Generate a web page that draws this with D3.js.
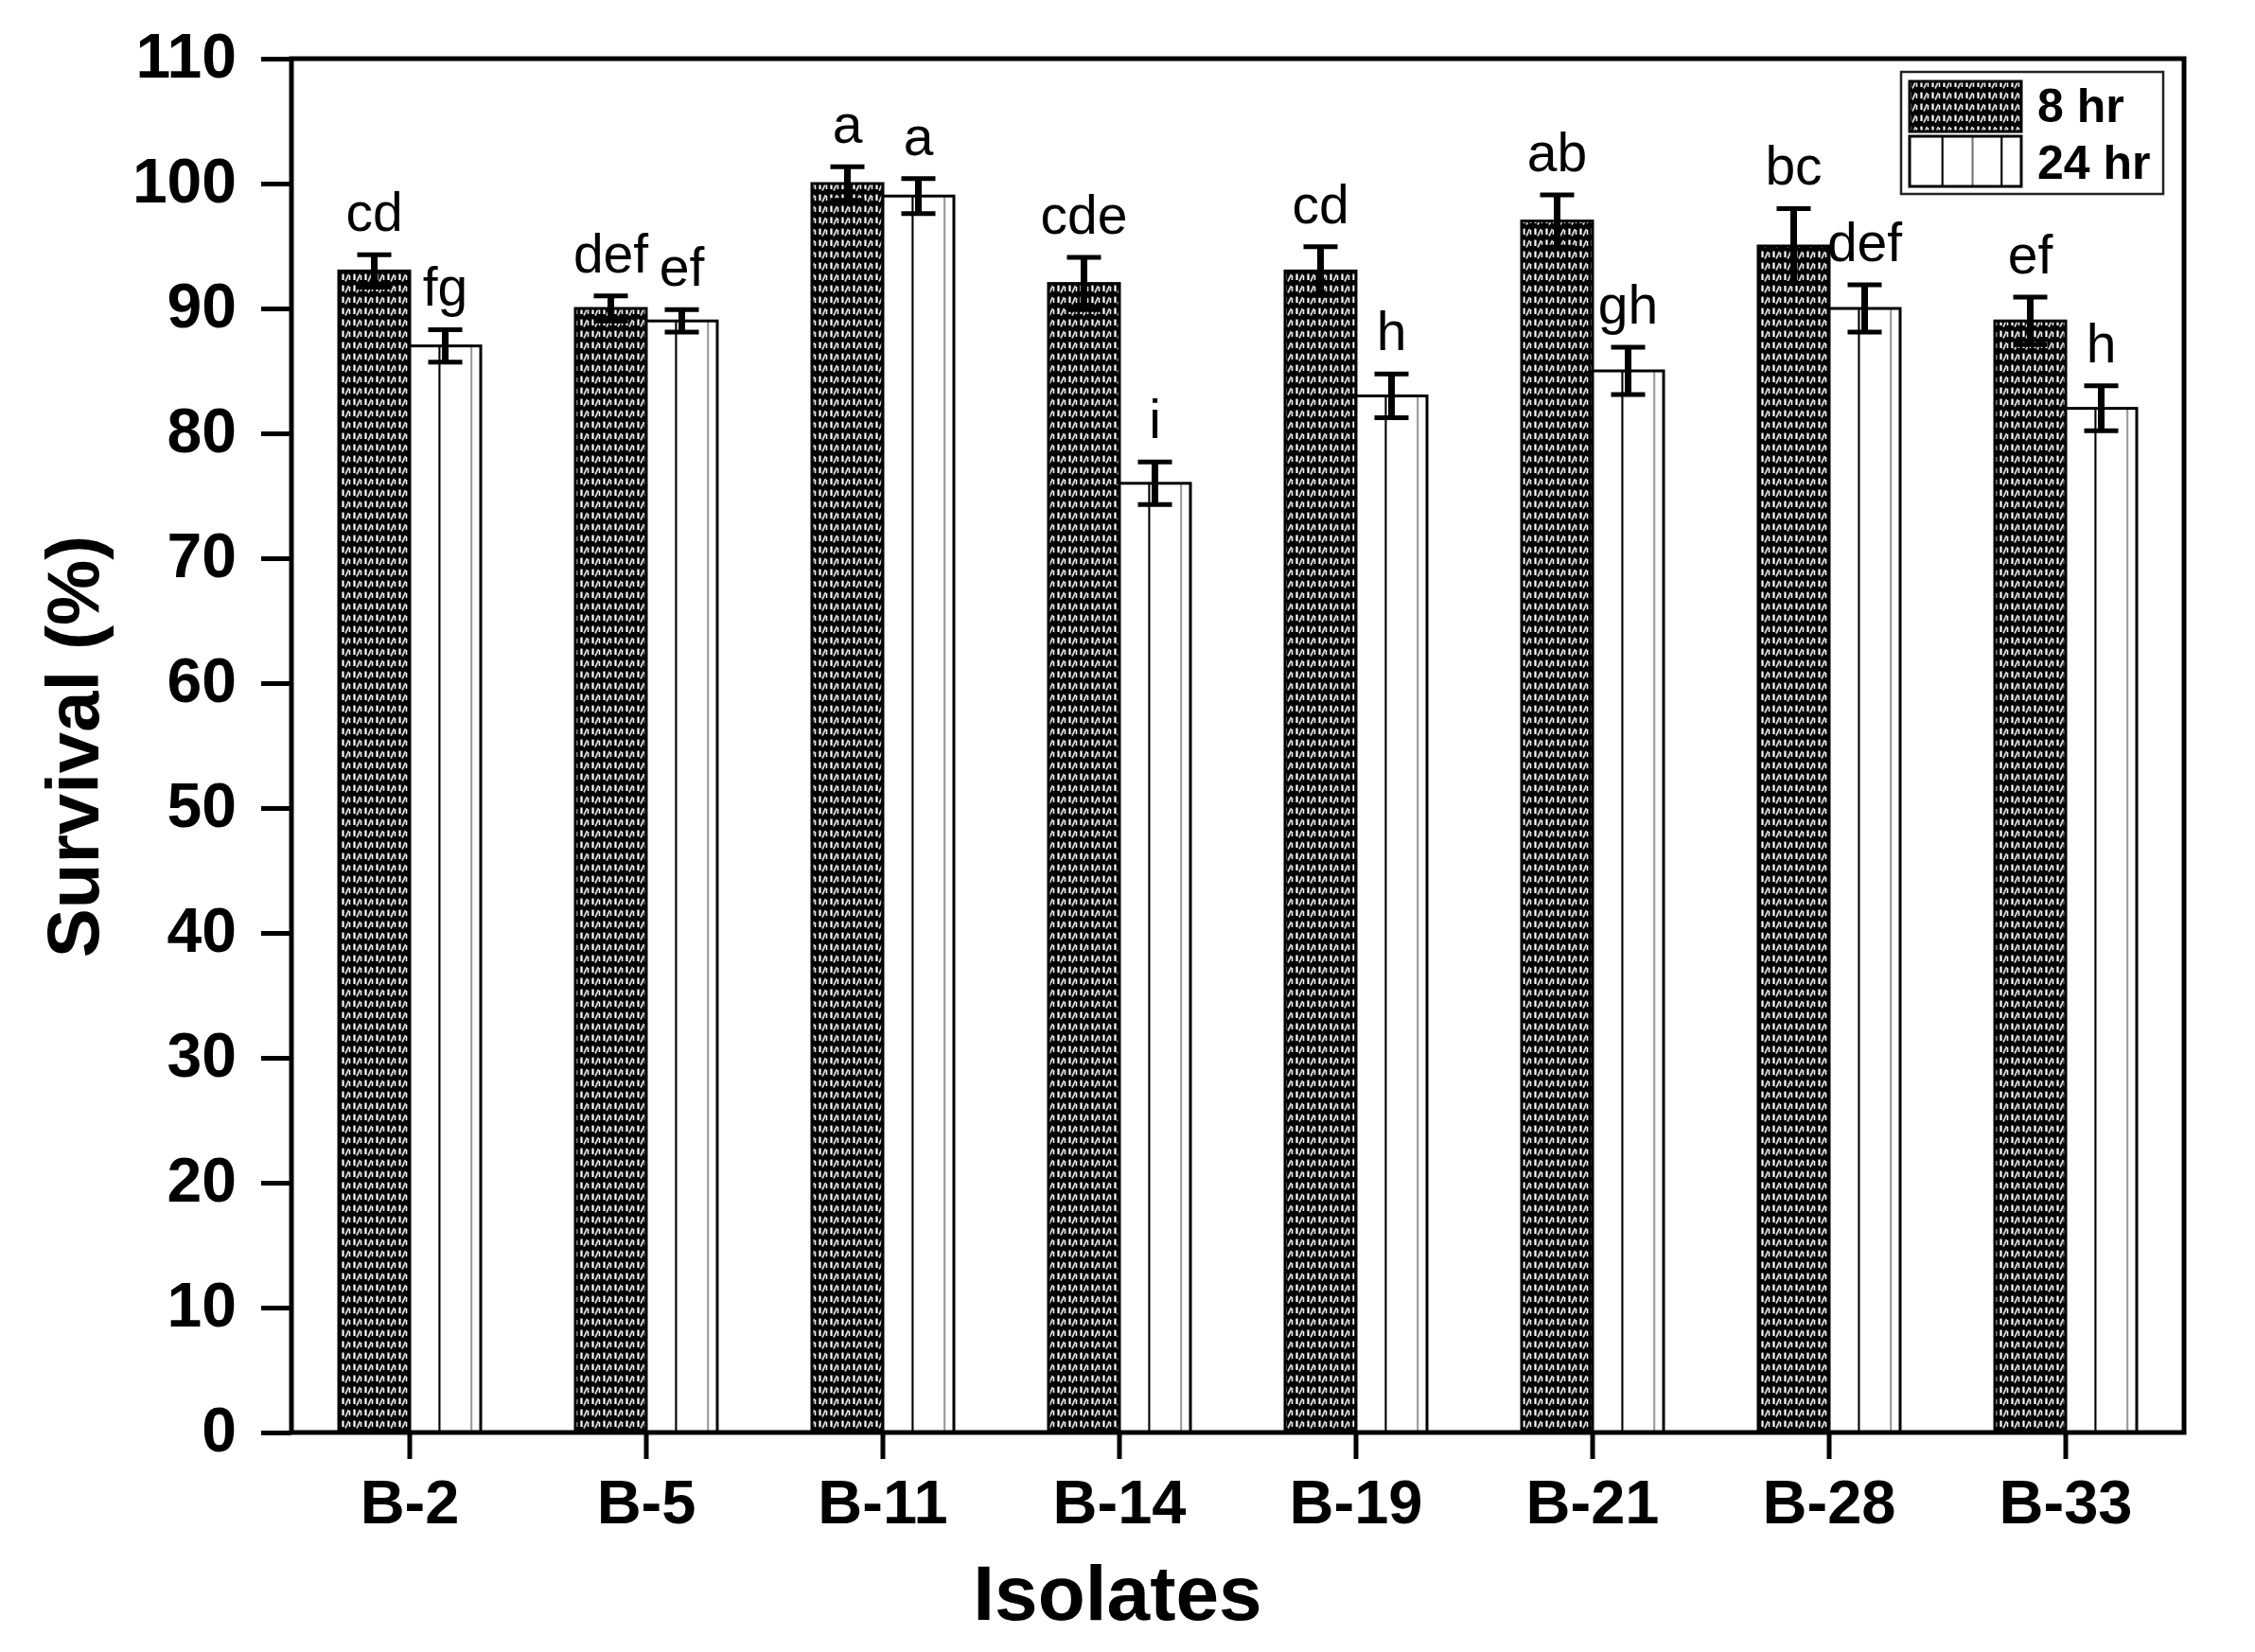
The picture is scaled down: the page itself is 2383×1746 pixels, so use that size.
<!DOCTYPE html>
<html>
<head>
<meta charset="utf-8">
<script src="https://cdn.jsdelivr.net/npm/d3@7"></script>
<style>
  html, body { margin: 0; padding: 0; background: #fff; }
  svg { display: block; }
  text { font-family: "Liberation Sans", Arial, Helvetica, sans-serif; fill: #000; }
</style>
</head>
<body>
<svg id="chart" width="2383" height="1746"></svg>
<script>
// ---- data ----
const categories = ["B-2", "B-5", "B-11", "B-14", "B-19", "B-21", "B-28", "B-33"];
const series = ["8 hr", "24 hr"];
const values8 = [93, 90, 100, 92, 93, 97, 95, 89];
const errors8 = [1.3, 1.0, 1.35, 2.1, 1.95, 2.1, 3.0, 1.9];
const letters8 = ["cd", "def", "a", "cde", "cd", "ab", "bc", "ef"];
const values24 = [87, 89, 99, 76, 83, 85, 90, 82];
const errors24 = [1.3, 0.9, 1.4, 1.7, 1.75, 1.9, 1.9, 1.8];
const letters24 = ["fg", "ef", "a", "i", "h", "gh", "def", "h"];
const yTicks = [0, 10, 20, 30, 40, 50, 60, 70, 80, 90, 100, 110];
const xTitle = "Isolates";
const yTitle = "Survival (%)";

// ---- layout ----
const L = 308, R = 2308, T = 62, B = 1514;
const barW = 75;

const svg = d3.select("#chart");
svg.append("rect").attr("width", 2383).attr("height", 1746).attr("fill", "#fff");

const defs = svg.append("defs");
// dark textured pattern for 8 hr
const p8 = defs.append("pattern").attr("id", "pat8").attr("patternUnits", "userSpaceOnUse")
  .attr("width", 12).attr("height", 12);
p8.append("rect").attr("width", 12).attr("height", 12).attr("fill", "#000");
p8.append("path").attr("d", "M2.5,1.5 V8").attr("stroke", "#fff").attr("stroke-width", 2.2);
p8.append("path").attr("d", "M5,9.5 L8.5,2").attr("stroke", "#d0d0d0").attr("stroke-width", 1.8);
p8.append("path").attr("d", "M9.5,3 V8").attr("stroke", "#f2f2f2").attr("stroke-width", 1.6);

// vertical-line pattern for 24 hr bars (relative to each bar)
const p24 = defs.append("pattern").attr("id", "pat24")
  .attr("patternUnits", "objectBoundingBox").attr("patternContentUnits", "objectBoundingBox")
  .attr("width", 1).attr("height", 1);
p24.append("rect").attr("width", 1).attr("height", 1).attr("fill", "#fff");
p24.append("rect").attr("x", 0.405).attr("width", 0.028).attr("height", 1).attr("fill", "#000");
p24.append("rect").attr("x", 0.855).attr("width", 0.028).attr("height", 1).attr("fill", "#999");

// legend swatch pattern
const p24L = defs.append("pattern").attr("id", "pat24L")
  .attr("patternUnits", "objectBoundingBox").attr("patternContentUnits", "objectBoundingBox")
  .attr("width", 1).attr("height", 1);
p24L.append("rect").attr("width", 1).attr("height", 1).attr("fill", "#fff");
[0.285, 0.555, 0.815].forEach((fx, i) => {
  p24L.append("rect").attr("x", fx).attr("width", 0.018).attr("height", 1).attr("fill", i === 1 ? "#777" : "#000");
});

// ---- scales ----
const x = d3.scaleBand().domain(categories).range([L, R]).padding(0);
const y = d3.scaleLinear().domain([0, 110]).range([B, T]);
const cx = c => x(c) + x.bandwidth() / 2;

const rows = categories.map((c, i) => ({
  c,
  bars: [
    { s: 0, v: values8[i], e: errors8[i], l: letters8[i], x0: cx(c) - barW },
    { s: 1, v: values24[i], e: errors24[i], l: letters24[i], x0: cx(c) }
  ]
}));
const allBars = rows.flatMap(r => r.bars);

// bars
svg.append("g").selectAll("rect").data(allBars).join("rect")
  .attr("x", d => d.x0)
  .attr("y", d => y(d.v))
  .attr("width", barW)
  .attr("height", d => y(0) - y(d.v))
  .attr("fill", d => d.s === 0 ? "url(#pat8)" : "url(#pat24)")
  .attr("stroke", "#000")
  .attr("stroke-width", 3);

// error bars
const eg = svg.append("g").attr("stroke", "#000");
eg.selectAll("line.stem").data(allBars).join("line").attr("class", "stem")
  .attr("x1", d => d.x0 + barW / 2).attr("x2", d => d.x0 + barW / 2)
  .attr("y1", d => y(d.v + d.e)).attr("y2", d => y(d.v - d.e))
  .attr("stroke-width", 7);
eg.selectAll("line.capT").data(allBars).join("line").attr("class", "capT")
  .attr("x1", d => d.x0 + barW / 2 - 18).attr("x2", d => d.x0 + barW / 2 + 18)
  .attr("y1", d => y(d.v + d.e)).attr("y2", d => y(d.v + d.e))
  .attr("stroke-width", 5);
eg.selectAll("line.capB").data(allBars).join("line").attr("class", "capB")
  .attr("x1", d => d.x0 + barW / 2 - 18).attr("x2", d => d.x0 + barW / 2 + 18)
  .attr("y1", d => y(d.v - d.e)).attr("y2", d => y(d.v - d.e))
  .attr("stroke-width", 5);

// significance letters
svg.append("g").selectAll("text").data(allBars).join("text")
  .attr("x", d => d.x0 + barW / 2)
  .attr("y", d => y(d.v + d.e) - 25)
  .attr("text-anchor", "middle")
  .attr("font-size", 57)
  .text(d => d.l);

// axes
const yAxis = svg.append("g").attr("transform", `translate(${L},0)`)
  .call(d3.axisLeft(y).tickValues(yTicks).tickSize(32).tickPadding(26).tickFormat(d3.format("d")));
yAxis.select(".domain").remove();
yAxis.selectAll(".tick line").attr("stroke", "#000").attr("stroke-width", 5);
yAxis.selectAll(".tick text").attr("font-size", 66).attr("font-weight", "bold")
  .attr("dy", "0.3em").attr("fill", "#000")
  .style("font-family", '"Liberation Sans", Arial, sans-serif');

const xAxis = svg.append("g").attr("transform", `translate(0,${B})`)
  .call(d3.axisBottom(x).tickSize(28).tickSizeOuter(0));
xAxis.select(".domain").remove();
xAxis.selectAll(".tick line").attr("stroke", "#000").attr("stroke-width", 5);
xAxis.selectAll(".tick text").attr("font-size", 65).attr("font-weight", "bold")
  .attr("y", 96).attr("dy", 0).attr("fill", "#000")
  .style("font-family", '"Liberation Sans", Arial, sans-serif');

// frame
svg.append("rect").attr("x", L).attr("y", T).attr("width", R - L).attr("height", B - T)
  .attr("fill", "none").attr("stroke", "#000").attr("stroke-width", 5);

// titles
svg.append("text").attr("x", 1181).attr("y", 1712).attr("text-anchor", "middle")
  .attr("font-size", 82).attr("font-weight", "bold").text(xTitle);
svg.append("text").attr("transform", "translate(104,789) rotate(-90)")
  .attr("text-anchor", "middle").attr("font-size", 78).attr("font-weight", "bold").text(yTitle);

// legend
const lg = svg.append("g");
lg.append("rect").attr("x", 2009).attr("y", 76).attr("width", 277).attr("height", 129)
  .attr("fill", "#fff").attr("stroke", "#222").attr("stroke-width", 2.5);
const legItems = series.map((s, i) => ({ s, i }));
lg.selectAll("rect.sw").data(legItems).join("rect").attr("class", "sw")
  .attr("x", 2018).attr("y", d => 86 + d.i * 58).attr("width", 118).attr("height", 53)
  .attr("fill", d => d.i === 0 ? "url(#pat8)" : "url(#pat24L)")
  .attr("stroke", "#000").attr("stroke-width", 3);
lg.selectAll("text").data(legItems).join("text")
  .attr("x", 2153).attr("y", d => 129 + d.i * 60)
  .attr("font-size", 50).attr("font-weight", "bold").text(d => d.s);
</script>
</body>
</html>
